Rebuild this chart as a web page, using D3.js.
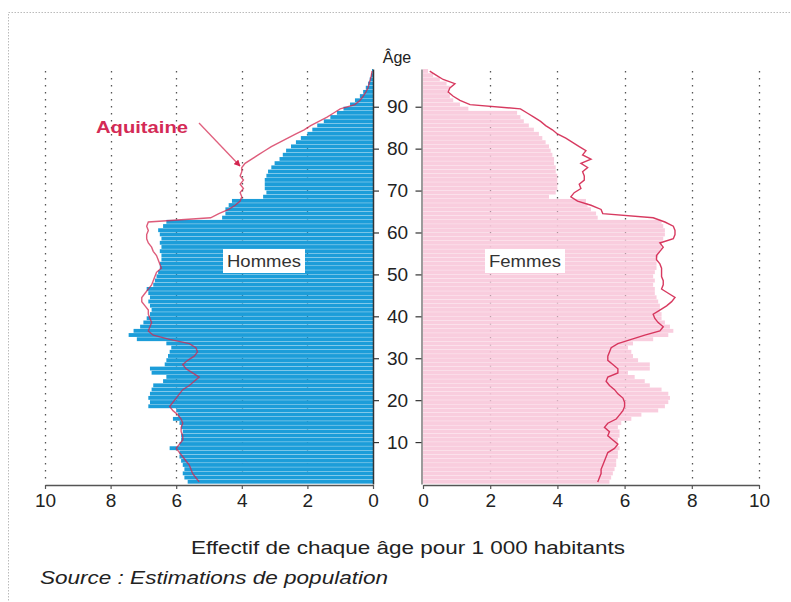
<!DOCTYPE html>
<html><head><meta charset="utf-8">
<script src="https://cdn.jsdelivr.net/npm/d3@7"></script>
<style>
html,body{margin:0;padding:0;background:#fff;}
svg{display:block;font-family:"Liberation Sans",Arial,Helvetica,sans-serif;}
</style></head>
<body>
<svg id="chart" width="791" height="602"></svg>
<script>
// ---- DATA (per 1 000 inhabitants, ages 0..98) ----
const ages = d3.range(0, 99);
const hommesFrance = [5.65,5.75,5.8,5.75,5.8,5.85,5.9,5.9,6.2,5.9,
  5.85,5.85,5.8,5.85,5.9,6.1,5.95,6.0,6.85,6.8,
  6.85,6.8,6.75,6.7,6.4,6.3,6.75,6.8,6.35,6.3,
  6.25,6.2,6.15,6.3,7.2,7.45,7.3,7.1,7.0,6.9,
  6.8,6.75,6.8,6.85,6.8,6.85,6.9,6.7,6.65,6.6,
  6.55,6.5,6.5,6.45,6.45,6.5,6.45,6.5,6.45,6.5,
  6.55,6.4,6.3,4.6,4.5,4.5,4.4,4.3,3.35,3.25,
  3.3,3.3,3.3,3.25,3.2,3.1,3.0,2.85,2.75,2.65,
  2.5,2.35,2.2,2.0,1.85,1.7,1.5,1.3,1.1,0.9,
  0.7,0.55,0.4,0.3,0.22,0.15,0.1,0.06,0.03];
const hommesAquitaine = [5.3,5.4,5.5,5.55,5.6,5.7,5.8,5.9,6.0,5.9,
  5.8,5.8,5.85,5.85,5.8,5.85,5.95,6.1,6.2,6.1,
  6.0,5.9,5.8,5.6,5.45,5.3,5.5,5.7,5.8,5.65,
  5.45,5.35,5.4,5.6,6.2,6.7,6.85,6.8,6.75,6.8,
  6.85,6.85,6.95,7.05,7.05,6.95,6.85,6.75,6.7,6.65,
  6.6,6.45,6.5,6.55,6.6,6.7,6.75,6.85,6.9,6.9,
  6.85,6.9,6.85,4.95,4.7,4.4,4.2,4.05,4.0,4.05,
  3.95,4.05,3.95,4.05,4.0,4.0,3.9,3.7,3.5,3.3,
  3.1,2.85,2.6,2.35,2.1,1.9,1.65,1.4,1.2,1.0,
  0.55,0.4,0.3,0.22,0.15,0.12,0.08,0.05,0.03];
const femmesFrance = [5.55,5.6,5.65,5.7,5.75,5.75,5.8,5.8,5.85,5.8,
  5.8,5.85,5.85,5.8,5.9,6.2,6.5,7.0,7.2,7.3,
  7.35,7.3,7.1,6.75,6.6,6.3,6.1,6.75,6.75,6.4,
  6.25,6.2,6.1,6.25,6.85,7.3,7.45,7.35,7.2,7.1,
  7.1,7.05,7.05,7.0,6.95,6.9,6.9,6.85,6.9,6.85,
  6.9,6.95,6.95,6.95,7.0,7.05,7.1,7.1,7.15,7.2,
  7.2,7.15,7.1,5.2,5.15,5.0,4.9,4.85,3.75,3.95,
  4.0,4.0,4.0,4.0,3.95,3.95,3.9,3.9,3.85,3.8,
  3.75,3.65,3.55,3.45,3.3,3.15,3.0,2.9,2.8,1.35,
  1.1,0.9,0.8,0.75,0.8,0.7,0.5,0.3,0.15];
const femmesAquitaine = [5.2,5.25,5.3,5.3,5.35,5.4,5.45,5.5,5.7,5.8,
  5.65,5.5,5.55,5.4,5.5,5.75,5.85,5.95,6.0,6.0,
  5.95,5.8,5.7,5.55,5.45,5.5,5.8,5.8,5.65,5.5,
  5.5,5.55,5.6,5.8,6.2,6.6,7.05,7.15,7.0,6.9,
  6.85,7.05,7.25,7.4,7.5,7.3,7.1,7.15,7.15,7.1,
  7.1,7.1,7.05,6.95,6.95,7.05,7.15,7.05,7.45,7.5,
  7.5,7.45,7.2,6.85,5.35,5.3,5.0,4.6,4.4,4.5,
  4.7,4.65,4.8,4.8,4.75,4.9,4.7,5.0,4.75,4.85,
  4.65,4.45,4.25,4.0,3.85,3.65,3.5,3.3,3.1,2.9,
  1.4,1.1,0.9,0.75,0.8,0.95,0.6,0.4,0.2];
const xTicks = [0,2,4,6,8,10];
const gridTicks = [2,4,6,8,10];
const ageTicks = [10,20,30,40,50,60,70,80,90];

// ---- LAYOUT ----
const svg = d3.select("#chart");
const xL = d3.scaleLinear().domain([0,10]).range([373,45]);
const xR = d3.scaleLinear().domain([0,10]).range([423,759]);
const y = d3.scaleLinear().domain([0,99]).range([484,69]);
const blue = "#1c9dd9", pink = "#f8c9db", red = "#d3254f";

// border
svg.append("rect").attr("x",8.5).attr("y",12.5).attr("width",790).attr("height",620)
  .attr("fill","none").attr("stroke","#bbb").attr("stroke-width",1).attr("stroke-dasharray","1.5,1.5");

// gridlines
const grid = svg.append("g");
[[xL,gridTicks],[xR,gridTicks]].forEach(([sc,t])=>{
  grid.selectAll(null).data(t).enter().append("line")
    .attr("x1",d=>Math.round(sc(d))+0.5).attr("x2",d=>Math.round(sc(d))+0.5)
    .attr("y1",y(99)+2).attr("y2",y(0))
    .attr("stroke","#555").attr("stroke-width",1.3).attr("stroke-dasharray","1.6,5.4");
});

// bars
const band = y(0)-y(1);
svg.append("g").selectAll("rect").data(ages).enter().append("rect")
  .attr("x",d=>xL(hommesFrance[d])).attr("width",d=>xL(0)-xL(hommesFrance[d]))
  .attr("y",d=>y(d+1)).attr("height",band-0.35).attr("fill",blue);
svg.append("g").selectAll("rect").data(ages).enter().append("rect")
  .attr("x",xR(0)).attr("width",d=>xR(femmesFrance[d])-xR(0))
  .attr("y",d=>y(d+1)).attr("height",band-0.3).attr("fill",pink).attr("fill-opacity",0.92);

// Aquitaine lines
const lineL = d3.line().x(d=>xL(hommesAquitaine[d])).y(d=>y(d+0.5));
const lineR = d3.line().x(d=>xR(femmesAquitaine[d])).y(d=>y(d+0.5));
svg.append("path").attr("d",lineL(ages)).attr("fill","none").attr("stroke",red)
  .attr("stroke-width",1.4).attr("stroke-opacity",0.75);
svg.append("path").attr("d",lineR(ages)).attr("fill","none").attr("stroke",red)
  .attr("stroke-width",1.4).attr("stroke-opacity",0.9);

// x axes
function styleAxis(g){
  g.select(".domain").attr("stroke","#555").attr("stroke-width",1.3);
  g.selectAll(".tick line").attr("stroke","#555").attr("stroke-width",1.2);
  g.selectAll(".tick text").attr("font-size",19).attr("fill","#222")
   .attr("font-family","'Liberation Sans',Arial,sans-serif");
}
const axL = svg.append("g").attr("transform",`translate(0,${y(0)+1})`)
  .call(d3.axisBottom(xL).tickValues(xTicks).tickSize(4).tickSizeOuter(0).tickPadding(5));
styleAxis(axL);
const axR = svg.append("g").attr("transform",`translate(0,${y(0)+1})`)
  .call(d3.axisBottom(xR).tickValues(xTicks).tickSize(4).tickSizeOuter(0).tickPadding(5));
styleAxis(axR);

// age axes
const ayL = svg.append("g").attr("transform",`translate(${xL(0)},0)`)
  .call(d3.axisRight(y).tickValues(ageTicks).tickSize(6).tickSizeOuter(0).tickFormat(""));
ayL.select(".domain").attr("stroke","#333").attr("stroke-width",1.5);
ayL.selectAll(".tick line").attr("stroke","#333").attr("stroke-width",1.2);
const ayR = svg.append("g").attr("transform",`translate(${xR(0)-1.5},0)`)
  .call(d3.axisLeft(y).tickValues(ageTicks).tickSize(6).tickSizeOuter(0).tickPadding(4));
ayR.select(".domain").attr("stroke","#666").attr("stroke-width",1.3);
ayR.selectAll(".tick line").attr("stroke","#333").attr("stroke-width",1.2);
ayR.selectAll(".tick text").attr("font-size",19).attr("fill","#222")
  .attr("text-anchor","middle").attr("x",-24);

// Âge label
svg.append("text").attr("x",397).attr("y",63).attr("text-anchor","middle")
  .attr("font-size",16).attr("fill","#222").text("Âge");

// panel labels with white boxes
function boxLabel(cx, cy, txt, w){
  const g = svg.append("g");
  g.append("rect").attr("x",cx-w/2-4).attr("y",cy-12).attr("width",w+8).attr("height",24).attr("fill","#fff");
  g.append("text").attr("x",cx).attr("y",cy+6).attr("text-anchor","middle")
    .attr("font-size",17).attr("fill","#333").attr("textLength",w).attr("lengthAdjust","spacingAndGlyphs").text(txt);
}
boxLabel(264,261,"Hommes",74);
boxLabel(525,261,"Femmes",72);

// Aquitaine annotation
svg.append("text").attr("x",96).attr("y",133).attr("font-size",17).attr("font-weight","bold")
  .attr("fill","#d42a56").attr("textLength",92).attr("lengthAdjust","spacingAndGlyphs").text("Aquitaine");
svg.append("defs").append("marker").attr("id","ah").attr("viewBox","0 0 10 10")
  .attr("refX",9).attr("refY",5).attr("markerWidth",5).attr("markerHeight",5).attr("orient","auto")
  .append("path").attr("d","M0,0 L10,5 L0,10 z").attr("fill",red);
svg.append("line").attr("x1",199).attr("y1",123).attr("x2",240).attr("y2",166)
  .attr("stroke","#e0607e").attr("stroke-width",1.3).attr("marker-end","url(#ah)");

// titles
svg.append("text").attr("x",408).attr("y",554).attr("text-anchor","middle").attr("font-size",19)
  .attr("fill","#222").attr("textLength",434).attr("lengthAdjust","spacingAndGlyphs")
  .text("Effectif de chaque âge pour 1 000 habitants");
svg.append("text").attr("x",40).attr("y",584).attr("font-size",19).attr("font-style","italic")
  .attr("fill","#222").attr("textLength",348).attr("lengthAdjust","spacingAndGlyphs")
  .text("Source : Estimations de population");
</script>
</body></html>
